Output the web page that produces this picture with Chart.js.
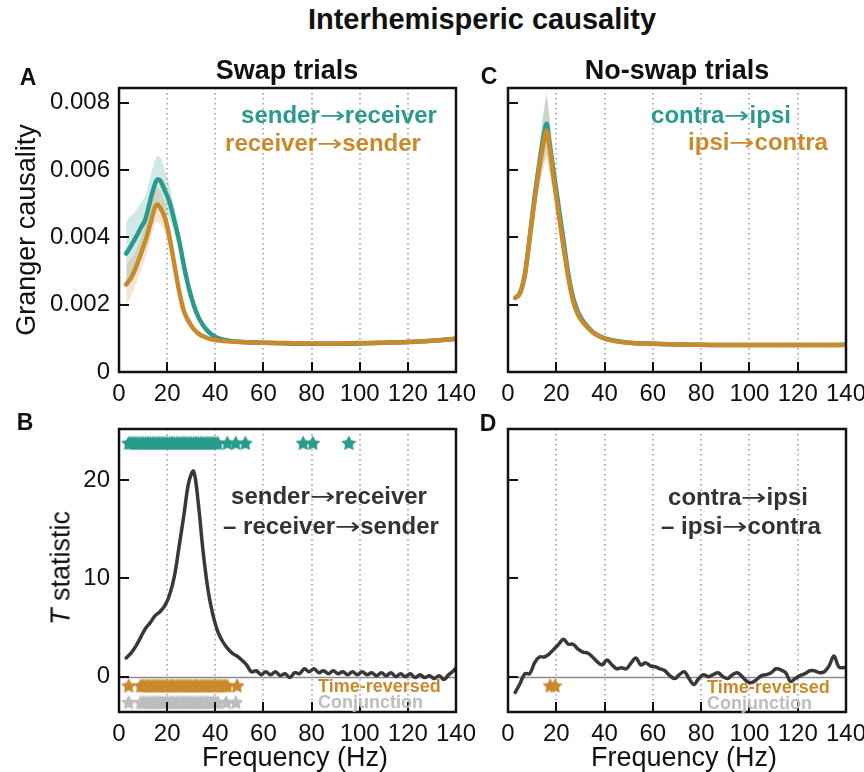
<!DOCTYPE html>
<html><head><meta charset="utf-8">
<script src="https://cdn.jsdelivr.net/npm/chart.js@4.4.1/dist/chart.umd.min.js"></script>
<style>
html,body{margin:0;padding:0;background:#fff;}
body{width:864px;height:772px;position:relative;overflow:hidden;font-family:"Liberation Sans",Arial,Helvetica,sans-serif;color:#111;}
canvas{position:absolute;}
.t{position:absolute;white-space:nowrap;transform:translate(-50%,-50%);line-height:1;}
.l{position:absolute;white-space:nowrap;transform:translate(0,-50%);line-height:1;}
.rot{position:absolute;white-space:nowrap;transform:translate(-50%,-50%) rotate(-90deg);line-height:1;}
.b{font-weight:bold;}
.teal{color:#2a9a8c;}
.orange{color:#c98a2c;}
.dark{color:#333;}
.gray{color:#bdbdbd;}
.ar{font-family:"DejaVu Sans",sans-serif;font-weight:normal;font-size:0.95em;display:inline-block;transform:scaleX(1.35);margin:0 3px;}
</style></head>
<body>
<canvas id="cA"></canvas>
<canvas id="cC"></canvas>
<canvas id="cB"></canvas>
<canvas id="cD"></canvas>

<div class="t b" style="left:482px;top:19px;font-size:29px">Interhemisperic causality</div>
<div class="t b" style="left:287px;top:70px;font-size:27px">Swap trials</div>
<div class="t b" style="left:677px;top:70px;font-size:27px">No-swap trials</div>
<div class="t b" style="left:28px;top:77px;font-size:23px">A</div>
<div class="t b" style="left:489px;top:76px;font-size:23px">C</div>
<div class="t b" style="left:25px;top:422px;font-size:23px">B</div>
<div class="t b" style="left:488px;top:423px;font-size:23px">D</div>

<div class="rot" style="left:26px;top:230px;font-size:27px">Granger causality</div>
<div class="rot" style="left:61px;top:568px;font-size:27px"><i>T</i> statistic</div>
<div class="t" style="left:295px;top:757px;font-size:27px">Frequency (Hz)</div>
<div class="t" style="left:684px;top:757px;font-size:27px">Frequency (Hz)</div>

<div class="t b teal" style="left:339px;top:115px;font-size:24px">sender<span class="ar">→</span>receiver</div>
<div class="t b orange" style="left:323px;top:143px;font-size:24px">receiver<span class="ar">→</span>sender</div>
<div class="t b teal" style="left:721px;top:115px;font-size:24px">contra<span class="ar">→</span>ipsi</div>
<div class="t b orange" style="left:758px;top:142px;font-size:24px">ipsi<span class="ar">→</span>contra</div>

<div class="t b dark" style="left:329px;top:496px;font-size:24px">sender<span class="ar">→</span>receiver</div>
<div class="t b dark" style="left:331px;top:526px;font-size:24px">– receiver<span class="ar">→</span>sender</div>
<div class="t b dark" style="left:738px;top:497px;font-size:24px">contra<span class="ar">→</span>ipsi</div>
<div class="t b dark" style="left:741px;top:526px;font-size:24px">– ipsi<span class="ar">→</span>contra</div>

<div class="l b orange" style="left:318px;top:686px;font-size:18px">Time-reversed</div>
<div class="l b gray" style="left:318px;top:702px;font-size:18px">Conjunction</div>
<div class="l b orange" style="left:707px;top:687px;font-size:18px">Time-reversed</div>
<div class="l b gray" style="left:707px;top:703px;font-size:18px">Conjunction</div>

<script>
// ---------- DATA ----------
const xTickVals = [0, 20, 40, 60, 80, 100, 120, 140];
const xTickLabels = ['0', '20', '40', '60', '80', '100', '120', '140'];
const gridFreqs = [20, 40, 60, 80, 100, 120];
const gcTickVals = [0, 0.002, 0.004, 0.006, 0.008];
const gcTickLabels = ['0', '0.002', '0.004', '0.006', '0.008'];
const tTickVals = [0, 10, 20];
const tTickLabels = ['0', '10', '20'];

// Granger causality spectra (panels A, C)
const freqGC = [3,5,7,9,11,13,15,16,17,19,21,23,25,27,29,31,33,35,37,40,45,50,60,70,80,90,100,110,120,130,140];
const swapSR = [0.00352,0.00375,0.00400,0.00428,0.00455,0.00510,0.00560,0.00572,0.00570,0.00540,0.00505,0.00450,0.00390,0.00315,0.00250,0.00200,0.00163,0.00138,0.00121,0.00104,0.00094,0.00090,0.00087,0.00085,0.00084,0.00084,0.00085,0.00087,0.00089,0.00093,0.00099];
const swapSRerr = [0.00095,0.0009,0.0008,0.00075,0.0007,0.0007,0.0007,0.0007,0.0007,0.0006,0.0005,0.0004,0.0003,0.00025,0.0002,0.00015,0.0001,0.00008,0.00007,0.00006,0.00005,0.00005,0.00004,0.00004,0.00004,0.00004,0.00004,0.00005,0.00005,0.00006,0.00007];
const swapRS = [0.0026,0.0028,0.0031,0.0035,0.0039,0.0044,0.0049,0.00498,0.0049,0.0046,0.0040,0.0032,0.0024,0.0018,0.0015,0.00128,0.00114,0.00106,0.00100,0.00095,0.00091,0.00089,0.00087,0.00086,0.00085,0.00085,0.00086,0.00087,0.00089,0.00093,0.00098];
const swapRSerr = [0.0006,0.00055,0.0005,0.0005,0.0005,0.0005,0.0005,0.0005,0.0005,0.00045,0.0004,0.0003,0.00025,0.0002,0.00015,0.0001,0.00008,0.00007,0.00006,0.00005,0.00005,0.00004,0.00004,0.00004,0.00004,0.00004,0.00004,0.00005,0.00005,0.00006,0.00007];
const noswapCI = [0.0022,0.00235,0.0029,0.0040,0.0052,0.0062,0.0071,0.00738,0.0069,0.0059,0.0049,0.0039,0.0029,0.0022,0.00178,0.00152,0.00135,0.0012,0.0011,0.0010,0.00092,0.00087,0.00084,0.00082,0.00081,0.0008,0.0008,0.0008,0.0008,0.0008,0.00081];
const noswapCIerr = [0.00008,0.0001,0.00015,0.00025,0.0004,0.0006,0.0008,0.0009,0.0008,0.0005,0.0003,0.0002,0.00015,0.0001,0.00008,0.00006,0.00005,0.00005,0.00004,0.00004,0.00004,0.00003,0.00003,0.00003,0.00003,0.00003,0.00003,0.00003,0.00003,0.00003,0.00003];
const noswapIC = [0.0022,0.00235,0.0029,0.0040,0.0051,0.0061,0.0069,0.00718,0.0068,0.0057,0.0047,0.0037,0.0028,0.0021,0.0017,0.00148,0.00132,0.00118,0.00109,0.00099,0.00091,0.00087,0.00084,0.00082,0.00081,0.0008,0.0008,0.0008,0.0008,0.0008,0.00081];
const noswapICerr = [0.00008,0.0001,0.00015,0.00025,0.0004,0.0006,0.0008,0.0009,0.0008,0.0005,0.0003,0.0002,0.00015,0.0001,0.00008,0.00006,0.00005,0.00005,0.00004,0.00004,0.00004,0.00003,0.00003,0.00003,0.00003,0.00003,0.00003,0.00003,0.00003,0.00003,0.00003];

// T statistic (panels B, D)
const freqT = [3,5,7,9,11,13,15,17,19,21,23,25,27,29,31,33,35,37,39,41,43,45,47,49,51,53,55,57,59,61,63,65,67,69,71,73,75,77,79,81,83,85,87,89,91,93,95,97,99,101,103,105,107,109,111,113,115,117,119,121,123,125,127,129,131,133,135,137,139,140];
const tSwap = [1.9,2.4,3.1,4.0,4.9,5.5,6.2,6.6,7.2,8.3,10.2,13.3,16.5,19.8,20.9,17.5,12.6,8.8,6.3,4.6,3.6,2.9,2.4,2.1,1.7,1.2,0.5,0.6,0.2,0.5,0.2,0.5,0.1,0.3,-0.1,0.4,0.3,0.8,0.5,0.8,0.4,0.6,0.3,0.6,0.3,0.5,0.2,0.5,0.2,0.5,0.2,0.4,0.1,0.4,0.1,0.4,0.0,0.3,0.0,0.3,-0.1,0.2,-0.1,0.1,-0.2,0.1,-0.3,0.2,0.6,0.9];
const tNoswap = [-1.6,-0.7,0.3,0.3,1.4,2.0,2.0,2.3,2.8,3.3,3.8,3.3,3.3,2.8,2.5,2.4,2.0,1.5,1.2,1.7,1.2,0.8,0.9,0.8,1.4,1.9,1.2,1.4,1.1,1.0,0.8,0.6,0.1,-0.2,0.2,0.5,-0.2,-0.8,-0.2,0.2,0.0,0.2,0.4,0.0,-0.2,0.2,0.4,0.0,-0.5,-0.6,-0.3,0.1,0.2,0.4,0.8,0.7,0.4,-0.5,-0.2,0.1,0.3,0.6,0.6,0.4,0.5,1.1,2.1,1.0,0.9,1.0];

// significance stars (frequencies, Hz)
const sigSwap = [4,5,6,7,8,9,10,11,12,13,14,15,16,17,18,19,20,21,22,23,24,25,26,27,28,29,30,31,32,33,34,35,36,37,38,39,40,41,45,48.5,52.5,76.5,80.5,95.5];
const sigSwapTR = [4,9,10,11,12,13,14,15,16,17,18,19,20,21,22,23,24,25,26,27,28,29,30,31,32,33,34,35,36,37,38,39,40,41,42,43,44,45,49];
const sigSwapConj = [4,9,10,11,12,13,14,15,16,17,18,19,20,21,22,23,24,25,26,27,28,29,30,31,32,33,34,35,36,37,38,39,40,41,44.5,48.5];
const sigNoswapTR = [17.5,19.5];
const rowSig = 23.8, rowTR = -0.9, rowConj = -2.6;

// ---------- STYLE ----------
const TEAL = '#2a9a8c', ORANGE = '#c98a2c', DARK = '#383838', STARGRAY = '#bdbdbd';
const TEAL_BAND = 'rgba(42,154,140,0.22)', ORANGE_BAND = 'rgba(201,138,44,0.22)';
const FONT = '"Liberation Sans", Arial, Helvetica, sans-serif';

function starImage(color, r) {
  const s = Math.ceil(r * 2) + 2;
  const c = document.createElement('canvas');
  c.width = c.height = s;
  const g = c.getContext('2d');
  g.fillStyle = color;
  g.beginPath();
  for (let k = 0; k < 10; k++) {
    const rr = k % 2 === 0 ? r : r * 0.52;
    const a = -Math.PI / 2 + k * Math.PI / 5;
    const px = s / 2 + rr * Math.cos(a), py = s / 2 + 0.8 + rr * Math.sin(a);
    if (k) g.lineTo(px, py); else g.moveTo(px, py);
  }
  g.closePath();
  g.fill();
  return c;
}

const pts = (xs, ys) => xs.map((x, i) => ({x, y: ys[i]}));
const upper = (xs, ys, e) => xs.map((x, i) => ({x, y: ys[i] + e[i]}));
const lower = (xs, ys, e) => xs.map((x, i) => ({x, y: ys[i] - e[i]}));
const row = (xs, v) => xs.map(x => ({x, y: v}));

const decor = {
  id: 'decor',
  beforeDatasetsDraw(chart, args, opts) {
    const {ctx, chartArea: a, scales: {x, y}} = chart;
    ctx.save();
    ctx.beginPath(); ctx.rect(a.left, a.top, a.right - a.left, a.bottom - a.top); ctx.clip();
    ctx.strokeStyle = '#a0a0a0'; ctx.lineWidth = 1.6; ctx.setLineDash([1.6, 3.4]);
    for (const v of gridFreqs) {
      const px = Math.round(x.getPixelForValue(v));
      ctx.beginPath(); ctx.moveTo(px, a.top); ctx.lineTo(px, a.bottom); ctx.stroke();
    }
    ctx.setLineDash([]);
    if (opts.zero) {
      const py = Math.round(y.getPixelForValue(0)) + 0.5;
      ctx.strokeStyle = '#8c8c8c'; ctx.lineWidth = 1.3;
      ctx.beginPath(); ctx.moveTo(a.left, py); ctx.lineTo(a.right, py); ctx.stroke();
    }
    ctx.restore();
  },
  afterDatasetsDraw(chart, args, opts) {
    const {ctx, chartArea: a, scales: {x, y}} = chart;
    ctx.save();
    ctx.strokeStyle = '#111'; ctx.lineWidth = 2;
    for (const v of opts.yTicks) {
      const py = Math.round(y.getPixelForValue(v));
      ctx.beginPath(); ctx.moveTo(a.left, py); ctx.lineTo(a.left + 10, py); ctx.stroke();
    }
    for (const v of gridFreqs) {
      const px = Math.round(x.getPixelForValue(v));
      ctx.beginPath(); ctx.moveTo(px, a.bottom); ctx.lineTo(px, a.bottom - 10); ctx.stroke();
    }
    ctx.lineWidth = 2.5;
    ctx.strokeRect(a.left, a.top, a.right - a.left, a.bottom - a.top);
    ctx.restore();
  }
};

function makeChart(id, rect, plot, cfg) {
  const cv = document.getElementById(id);
  cv.width = rect.w; cv.height = rect.h;
  cv.style.left = rect.x + 'px'; cv.style.top = rect.y + 'px';
  cv.style.width = rect.w + 'px'; cv.style.height = rect.h + 'px';
  const yW = plot.l - rect.x, xH = rect.y + rect.h - plot.b;
  return new Chart(cv, {
    type: 'line',
    data: {datasets: cfg.datasets},
    options: {
      responsive: false, animation: false, devicePixelRatio: 1,
      layout: {padding: {left: 0, top: plot.t - rect.y, right: rect.x + rect.w - plot.r, bottom: 0}},
      plugins: {legend: {display: false}, tooltip: {enabled: false},
        decor: {zero: cfg.zero, yTicks: cfg.yTicks}},
      elements: {point: {radius: 0}, line: {borderCapStyle: 'round', borderJoinStyle: 'round'}},
      scales: {
        x: {type: 'linear', min: 0, max: 140,
          afterBuildTicks: s => { s.ticks = xTickVals.map(v => ({value: v})); },
          afterFit: s => { s.height = xH; },
          grid: {display: false, drawTicks: false}, border: {display: false},
          ticks: {autoSkip: false, maxRotation: 0, minRotation: 0, padding: cfg.xPad, color: '#111',
            font: {size: 24, family: FONT}, callback: (v, i) => xTickLabels[i]}},
        y: {type: 'linear', min: cfg.ymin, max: cfg.ymax,
          afterBuildTicks: s => { s.ticks = cfg.yTicks.map(v => ({value: v})); },
          afterFit: s => { s.width = yW; },
          grid: {display: false, drawTicks: false}, border: {display: false},
          ticks: {display: cfg.yLabels, padding: 9, color: '#111',
            font: {size: 24, family: FONT}, callback: (v, i) => cfg.yTickLabels[i]}}
      }
    },
    plugins: [decor]
  });
}

function gcDatasets(a, aErr, b, bErr) {
  return [
    {data: pts(freqGC, b), borderColor: ORANGE, borderWidth: 4.5, fill: false, cubicInterpolationMode: 'monotone'},
    {data: pts(freqGC, a), borderColor: TEAL, borderWidth: 4.5, fill: false, cubicInterpolationMode: 'monotone'},
    {data: upper(freqGC, b, bErr), borderWidth: 0, borderColor: 'rgba(0,0,0,0)', backgroundColor: ORANGE_BAND, fill: '+1', cubicInterpolationMode: 'monotone'},
    {data: lower(freqGC, b, bErr), borderWidth: 0, borderColor: 'rgba(0,0,0,0)', fill: false, cubicInterpolationMode: 'monotone'},
    {data: upper(freqGC, a, aErr), borderWidth: 0, borderColor: 'rgba(0,0,0,0)', backgroundColor: TEAL_BAND, fill: '+1', cubicInterpolationMode: 'monotone'},
    {data: lower(freqGC, a, aErr), borderWidth: 0, borderColor: 'rgba(0,0,0,0)', fill: false, cubicInterpolationMode: 'monotone'}
  ];
}

const starTeal = starImage(TEAL, 8), starOrange = starImage(ORANGE, 8), starGray = starImage(STARGRAY, 8);
const starDS = (xs, v, img) => ({data: row(xs, v), showLine: false, pointStyle: img, pointRadius: 7, borderWidth: 0, clip: false});

const gcCommon = {ymin: 0, ymax: 0.00844, yTicks: gcTickVals, yTickLabels: gcTickLabels, zero: false, xPad: 8};
const tCommon = {ymin: -3.6, ymax: 25.2, yTicks: tTickVals, yTickLabels: tTickLabels, zero: true, xPad: 8};

makeChart('cA', {x: 0, y: 60, w: 484, h: 352}, {l: 119, t: 88, r: 456, b: 372},
  Object.assign({}, gcCommon, {yLabels: true, datasets: gcDatasets(swapSR, swapSRerr, swapRS, swapRSerr)}));
makeChart('cC', {x: 470, y: 60, w: 410, h: 352}, {l: 508, t: 88, r: 846, b: 372},
  Object.assign({}, gcCommon, {yLabels: false, datasets: gcDatasets(noswapCI, noswapCIerr, noswapIC, noswapICerr)}));
makeChart('cB', {x: 0, y: 400, w: 484, h: 372}, {l: 119, t: 429, r: 456, b: 712},
  Object.assign({}, tCommon, {yLabels: true, datasets: [
    starDS(sigSwap, rowSig, starTeal),
    starDS(sigSwapTR, rowTR, starOrange),
    starDS(sigSwapConj, rowConj, starGray),
    {data: pts(freqT, tSwap), borderColor: DARK, borderWidth: 3.5, fill: false, tension: 0.35}
  ]}));
makeChart('cD', {x: 470, y: 400, w: 410, h: 372}, {l: 508, t: 429, r: 846, b: 712},
  Object.assign({}, tCommon, {yLabels: false, datasets: [
    starDS(sigNoswapTR, rowTR, starOrange),
    {data: pts(freqT, tNoswap), borderColor: DARK, borderWidth: 3.5, fill: false, tension: 0.35}
  ]}));
</script>
</body></html>
